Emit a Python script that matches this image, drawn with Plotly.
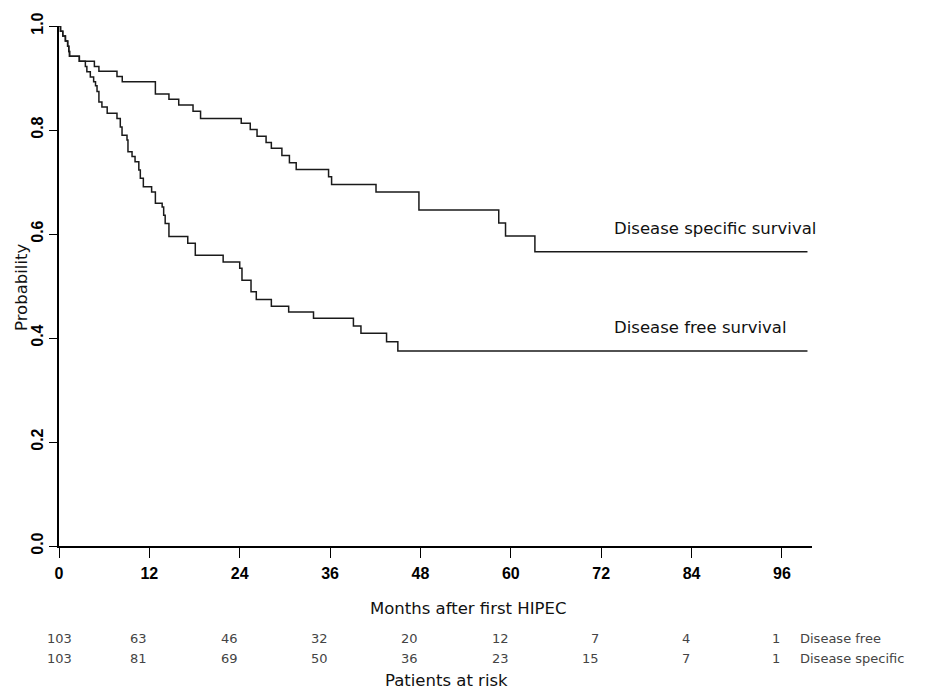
import plotly.graph_objects as go

# Kaplan-Meier step data (months, survival probability after step)
dss_time = [0, 0.2, 0.5, 0.85, 1.15, 1.3, 1.4, 2.7, 4.7, 5.3, 7.7, 8.4, 12.8, 14.6, 15.9, 17.8, 18.8,
            24.2, 25.4, 26.3, 27.5, 28.2, 29.6, 30.6, 31.5, 35.8, 36.2, 42.1, 47.8, 58.4, 59.3, 63.2, 99.4]
dss_surv = [1.0, 0.990, 0.981, 0.971, 0.961, 0.951, 0.942, 0.932, 0.922, 0.913, 0.903, 0.893, 0.869, 0.859, 0.848, 0.836, 0.822,
            0.813, 0.801, 0.788, 0.776, 0.765, 0.751, 0.737, 0.724, 0.710, 0.695, 0.681, 0.646, 0.621, 0.596, 0.566, 0.566]

dfs_time = [0, 0.2, 0.5, 0.85, 1.15, 1.3, 1.4, 2.7, 3.5, 3.7, 4.16, 4.6, 4.85, 5.05, 5.3, 5.7, 6.4, 7.7, 8.14, 8.37,
            9.03, 9.16, 9.7, 10.1, 10.6, 10.8, 11.2, 12.3, 12.8, 13.7, 13.9, 14.1, 14.6, 17.1, 18.1, 21.8, 24.0, 24.3,
            25.5, 26.2, 28.2, 30.5, 33.8, 39.1, 40.1, 43.5, 45.0, 99.4]
dfs_surv = [1.0, 0.990, 0.981, 0.971, 0.961, 0.951, 0.942, 0.932, 0.922, 0.912, 0.902, 0.893, 0.885, 0.874, 0.854, 0.844, 0.832, 0.822, 0.806, 0.790,
            0.781, 0.758, 0.749, 0.739, 0.723, 0.707, 0.691, 0.681, 0.659, 0.652, 0.636, 0.620, 0.595, 0.582, 0.559, 0.546, 0.534, 0.511,
            0.489, 0.474, 0.461, 0.450, 0.438, 0.423, 0.409, 0.393, 0.375, 0.375]

x_ticks = [0, 12, 24, 36, 48, 60, 72, 84, 96]
y_ticks = [0.0, 0.2, 0.4, 0.6, 0.8, 1.0]
y_tick_labels = ["0.0", "0.2", "0.4", "0.6", "0.8", "1.0"]

risk_times = [0, 12, 24, 36, 48, 60, 72, 84, 96]
risk_free = [103, 63, 46, 32, 20, 12, 7, 4, 1]
risk_specific = [103, 81, 69, 50, 36, 23, 15, 7, 1]

curve_labels = ["Disease specific survival", "Disease free survival"]
curve_label_y = [0.611, 0.421]
risk_row_labels = ["Disease free", "Disease specific"]

TICKFONT = "Liberation Sans, Arial, sans-serif"
TXT = "DejaVu Sans, sans-serif"

fig = go.Figure()
fig.add_trace(go.Scatter(x=dss_time, y=dss_surv, mode="lines", line=dict(shape="hv", color="#1a1a1a", width=1.5),
                         showlegend=False, hoverinfo="skip"))
fig.add_trace(go.Scatter(x=dfs_time, y=dfs_surv, mode="lines", line=dict(shape="hv", color="#1a1a1a", width=1.5),
                         showlegend=False, hoverinfo="skip"))

ann = []
for txt, yv in zip(curve_labels, curve_label_y):
    ann.append(dict(x=73.4, y=yv, xref="x", yref="y", text=txt, showarrow=False, xanchor="left", yanchor="middle",
                    font=dict(family=TXT, size=16.5, color="#111")))

for row, (vals, shift) in enumerate([(risk_free, -92), (risk_specific, -112)]):
    for i, (t, v) in enumerate(zip(risk_times, vals)):
        ann.append(dict(x=t, y=0, xref="x", yref="paper", text=str(v), showarrow=False,
                        xanchor="center" if i == 0 else "right", yanchor="middle", yshift=shift,
                        font=dict(family=TXT, size=13, color="#444")))
    ann.append(dict(x=98.2, y=0, xref="x", yref="paper", text=risk_row_labels[row], showarrow=False,
                    xanchor="left", yanchor="middle", yshift=shift, font=dict(family=TXT, size=13, color="#444")))

ann.append(dict(x=54.4, y=0, xref="x", yref="paper", text="Months after first HIPEC", showarrow=False,
                xanchor="center", yanchor="middle", yshift=-62, font=dict(family=TXT, size=16.5, color="#111")))
ann.append(dict(x=51.5, y=0, xref="x", yref="paper", text="Patients at risk", showarrow=False,
                xanchor="center", yanchor="middle", yshift=-134, font=dict(family=TXT, size=16.5, color="#111")))
ann.append(dict(x=0, y=0.5, xref="paper", yref="paper", text="Probability", showarrow=False, textangle=-90,
                xanchor="center", yanchor="middle", xshift=-38, yshift=-2, font=dict(family=TXT, size=16.5, color="#111")))

# The page body adds an 8px offset, so the figure is sized 8px smaller and margins shifted.
fig.update_layout(
    width=917, height=682,
    margin=dict(l=51, r=113, t=18, b=144),
    paper_bgcolor="white", plot_bgcolor="white",
    annotations=ann,
    xaxis=dict(range=[0, 100], tickvals=x_ticks, ticktext=[str(v) for v in x_ticks], automargin=False,
               showline=True, linecolor="black", linewidth=2, ticks="outside", ticklen=10, tickwidth=1,
               tickcolor="black", showgrid=False, zeroline=False, ticklabelstandoff=2,
               tickfont=dict(family=TICKFONT, size=16, color="black", weight="bold")),
    yaxis=dict(range=[0, 1], tickvals=y_ticks, ticktext=y_tick_labels, tickangle=-90, automargin=False,
               showline=True, linecolor="black", linewidth=2, ticks="outside", ticklen=8, tickwidth=1,
               tickcolor="black", showgrid=False, zeroline=False,
               tickfont=dict(family=TICKFONT, size=16, color="black", weight="bold")),
)

fig.write_html("out.html")
